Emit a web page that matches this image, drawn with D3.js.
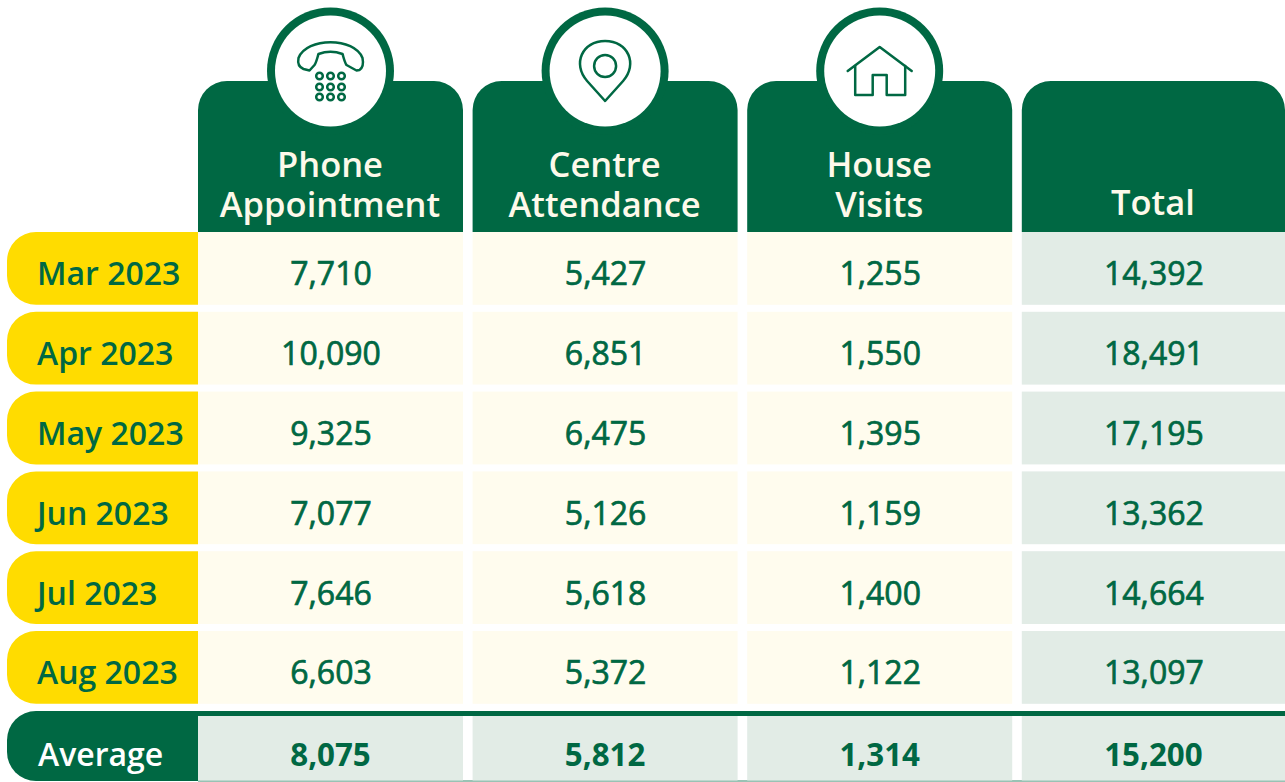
<!DOCTYPE html>
<html><head><meta charset="utf-8">
<script src="https://cdn.jsdelivr.net/npm/d3@7/dist/d3.min.js"></script>
<style>html,body{margin:0;padding:0;background:#fff;overflow:hidden}svg{display:block}text{font-family:"Open Sans",sans-serif}</style>
</head><body><svg id="c" width="1285" height="782"></svg>
<script>
const months=["Mar 2023","Apr 2023","May 2023","Jun 2023","Jul 2023","Aug 2023"];
const columns=["Phone Appointment","Centre Attendance","House Visits","Total"];
const headerLines=[["Phone","Appointment"],["Centre","Attendance"],["House","Visits"],["Total"]];
const phone=[7710,10090,9325,7077,7646,6603];
const centre=[5427,6851,6475,5126,5618,5372];
const house=[1255,1550,1395,1159,1400,1122];
const total=[14392,18491,17195,13362,14664,13097];
const averages=[8075,5812,1314,15200];
const averageLabel="Average";
const series=[phone,centre,house,total];

const GREEN="#006843",YEL="#ffdc00",CREAM="#fffcee",PALE="#e2ece6";
const W=1285;
const svg=d3.select("#c");
const x=d3.scaleBand().domain(columns).range([198,198+4*274.6-9.6]).paddingInner(9.6/274.6);
const y=d3.scaleBand().domain(months).range([232,232+6*79.8-7]).paddingInner(7/79.8);
const fmt=d3.format(",");
const bw=x.bandwidth(), bh=y.bandwidth();
const colW=c=>Math.min(x(c)+bw,W)-x(c);

// header
const hTop=81,hBot=232,r=29;
columns.forEach((c,i)=>{
  const x0=x(c),x1=x0+colW(c);
  svg.append("path").attr("fill",GREEN).attr("d",`M${x0},${hBot}V${hTop+r}A${r},${r} 0 0 1 ${x0+r},${hTop}H${x1-r}A${r},${r} 0 0 1 ${x1},${hTop+r}V${hBot}Z`);
  const lines=headerLines[i],cx=(x0+x1)/2-.5;
  lines.forEach((t,k)=>{
    svg.append("text").attr("x",cx).attr("y",lines.length==2?(k==0?176.5:216.5):214.5)
      .attr("text-anchor","middle").attr("fill","#fdf9ea").attr("font-size",34.5).attr("font-weight",600).text(t);
  });
  if(i<3){
    const cy=71,ccx=(x0+x1)/2;
    svg.append("circle").attr("cx",ccx).attr("cy",cy).attr("r",63.5).attr("fill",GREEN);
    svg.append("circle").attr("cx",ccx).attr("cy",cy).attr("r",55.5).attr("fill","#fff");
    const g=svg.append("g").attr("transform",`translate(${ccx},${cy})`).attr("fill","none").attr("stroke",GREEN).attr("stroke-width",2.5).attr("stroke-linejoin","round").attr("stroke-linecap","round");
    if(i==0){
      g.append("path").attr("d","M-32,-13C-24,-34 24,-34 32,-13C33,-8 32,-3 29,-1L26,-.5L16,-6C14,-9 13,-14 12,-17C4,-20 -4,-20 -12,-17C-13,-14 -14,-9 -16,-6L-21,-.5L-27,-2C-32,-4 -33,-8 -32,-13Z");
      [-11,0,11].forEach(dx=>[5,16,26].forEach(dy=>g.append("circle").attr("cx",dx).attr("cy",dy).attr("r",3.3)));
    } else if(i==1){
      g.append("path").attr("d","M0,30L-18,10C-33,-7 -23,-30 0,-30C23,-30 33,-7 18,10Z");
      g.append("circle").attr("cy",-5).attr("r",11);
    } else {
      g.append("path").attr("d","M-32,0L0,-24L32,0");
      g.append("path").attr("d","M-24.5,-5V24H-7V4H7V24H25.5V-5");
    }
  }
});

// month rows
months.forEach((m,ri)=>{
  const y0=y(m),rl=29;
  svg.append("path").attr("fill",YEL).attr("d",`M198,${y0}H${7+rl}A${rl},${rl} 0 0 0 7,${y0+rl}V${y0+bh-rl}A${rl},${rl} 0 0 0 ${7+rl},${y0+bh}H198Z`);
  svg.append("text").attr("x",37).attr("y",y0+bh/2+17).attr("fill",GREEN).attr("font-size",32).attr("font-weight",600).text(m);
  columns.forEach((c,ci)=>{
    svg.append("rect").attr("x",x(c)).attr("y",y0).attr("width",colW(c)).attr("height",bh).attr("fill",ci==3?PALE:CREAM);
    svg.append("text").attr("x",x(c)+colW(c)/2+.5).attr("y",y0+bh/2+17).attr("text-anchor","middle").attr("fill",GREEN).attr("stroke",GREEN).attr("stroke-width",.7).attr("font-size",32).attr("font-weight",400).text(fmt(series[ci][ri]));
  });
});

// average row
const aTop=711,aBot=781,rl=29;
svg.append("path").attr("fill",GREEN).attr("d",`M198,${aTop}H${7+rl}A${rl},${rl} 0 0 0 7,${aTop+rl}V${aBot-rl}A${rl},${rl} 0 0 0 ${7+rl},${aBot}H198Z`);
svg.append("rect").attr("x",198).attr("y",aTop).attr("width",W-198).attr("height",5).attr("fill",GREEN);
svg.append("text").attr("x",38).attr("y",766).attr("fill","#fff").attr("font-size",32).attr("font-weight",600).text(averageLabel);
svg.append("rect").attr("x",198).attr("y",aBot-.5).attr("width",W-198).attr("height",1).attr("fill",GREEN).attr("opacity",.8);
columns.forEach((c,ci)=>{
  svg.append("rect").attr("x",x(c)).attr("y",aTop+5).attr("width",colW(c)).attr("height",aBot-aTop-5.5).attr("fill",PALE);
  svg.append("text").attr("x",x(c)+colW(c)/2).attr("y",766).attr("text-anchor","middle").attr("fill",GREEN).attr("font-size",31.3).attr("font-weight",700).text(fmt(averages[ci]));
});
</script></body></html>
